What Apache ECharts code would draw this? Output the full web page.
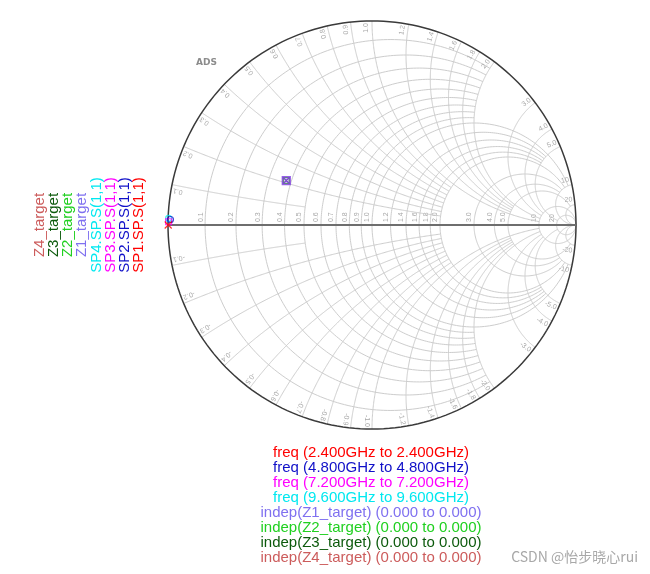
<!DOCTYPE html>
<html><head><meta charset="utf-8">
<script src="https://cdn.jsdelivr.net/npm/echarts@6/dist/echarts.min.js"></script>
<style>html,body{margin:0;padding:0;background:#fff}#c{width:650px;height:574px}</style>
</head><body><div id="c"></div>
<script>
// ---- grid tick values (normalized impedance) ----
const resistanceTicks = [0.1,0.2,0.3,0.4,0.5,0.6,0.7,0.8,0.9,1.0,1.2,1.4,1.6,1.8,2.0,3.0,4.0,5.0,10,20];
const reactanceTicks  = [0.1,0.2,0.3,0.4,0.5,0.6,0.7,0.8,0.9,1.0,1.2,1.4,1.6,1.8,2.0,3.0,4.0,5.0,10,20];
const tickLabels      = ['0.1','0.2','0.3','0.4','0.5','0.6','0.7','0.8','0.9','1.0','1.2','1.4','1.6','1.8','2.0','3.0','4.0','5.0','10','20'];

// ---- S-parameter traces (S11 reflection coefficient, re / im) ----
const sNames = ['SP1.SP.S(1,1)','SP2.SP.S(1,1)','SP3.SP.S(1,1)','SP4.SP.S(1,1)'];
const sFreq  = ['2.400GHz','4.800GHz','7.200GHz','9.600GHz'];
const s11Re  = [-0.999,-0.988,-0.997,-0.997];
const s11Im  = [0.000,0.027,0.016,0.032];

// ---- impedance targets (normalized to 50 ohm) ----
const zNames = ['Z1_target','Z2_target','Z3_target','Z4_target'];
const zRe    = [0.376,0.376,0.376,0.376];
const zIm    = [0.211,0.211,0.211,0.211];

const sColors = ['#ff0000','#1010c8','#ff00ff','#00e8f0'];
const zColors = ['#7f70f0','#20d020','#0c5a0c','#cc5c5c'];
const zMarkColors = ['#8040e0','#20d020','#0c5a0c','#cc5c5c'];

function gamma(r,x){const D=(r+1)*(r+1)+x*x;return [(r*r+x*x-1)/D,2*x/D];}
const FULL=1e6;
function limitOf(kind,v){
  if(kind===1 && v===0.1) return 0.5;
  if(v<1) return 2;
  if(v===1) return 10;
  if(v<2) return 5;
  if(v===2) return 10;
  if(v<5) return 10;
  if(v===5) return 20;
  return FULL;
}
const gridItems=[];
resistanceTicks.forEach((r,i)=>gridItems.push([0,r,limitOf(0,r),i]));
reactanceTicks.forEach((x,i)=>{gridItems.push([1,x,limitOf(1,x),i]);gridItems.push([1,-x,limitOf(1,x),i]);});
gridItems.push([2,0,FULL,-1]); // outer rim r=0
gridItems.push([3,0,FULL,-1]); // real axis

function linePoints(kind,v,lim){
  const pts=[];const N=220;
  if(kind===0||kind===2){
    const c=v/(1+v),R=1/(1+v);let p0=0;
    if(lim<FULL){const g=gamma(v,lim);p0=Math.atan2(g[1],g[0]-c);}
    for(let k=0;k<=N;k++){const p=p0+(2*Math.PI-2*p0)*k/N;pts.push([c+R*Math.cos(p),R*Math.sin(p)]);}
  } else if(kind===1){
    const cy=1/v,R=Math.abs(1/v);
    const a=gamma(0,v),b=lim<FULL?gamma(lim,v):[1,0];
    const s0=Math.atan2(a[1]-cy,a[0]-1),s1=Math.atan2(b[1]-cy,b[0]-1);
    let d=s1-s0;while(d>Math.PI)d-=2*Math.PI;while(d<-Math.PI)d+=2*Math.PI;
    for(let k=0;k<=N;k++){const p=s0+d*k/N;pts.push([1+R*Math.cos(p),cy+R*Math.sin(p)]);}
  } else {
    pts.push([-1,0]);pts.push([1,0]);
  }
  return pts;
}

function renderGrid(params,api){
  const kind=api.value(0),v=api.value(1),lim=api.value(2),idx=api.value(3);
  const pts=linePoints(kind,v,lim).map(p=>api.coord(p));
  let stroke='#cdcdcd',lw=1;
  if(kind===2){stroke='#3a3a3a';lw=1.5;}
  if(kind===3){stroke='#6e6e6e';lw=2;}
  const children=[{type:'polyline',shape:{points:pts},style:{stroke:stroke,fill:null,lineWidth:lw},silent:true}];
  const lab={fill:'#a8a8a8',fontSize:7,fontFamily:'Liberation Sans, Arial'};
  if(kind===0){
    const g=gamma(v,0);const p=api.coord([g[0],0]);
    children.push({type:'text',x:p[0]-1,y:p[1]-3,rotation:Math.PI/2,silent:true,
      style:Object.assign({text:tickLabels[idx],align:'left',verticalAlign:'bottom'},lab)});
  } else if(kind===1){
    const th=Math.atan2(2*v,v*v-1);const d=(v>0?1:-1)*0.01;
    const rr=0.99;const p=api.coord([rr*Math.cos(th+d),rr*Math.sin(th+d)]);
    children.push({type:'text',x:p[0],y:p[1],rotation:th,silent:true,
      style:Object.assign({text:(v<0?'-':'')+tickLabels[idx],align:'right',verticalAlign:v>0?'bottom':'top'},lab)});
  }
  return {type:'group',children:children};
}

const xMark='path://M0,0L10,10M10,0L0,10';
const sqX='path://M0,0H10V10H0ZM0,0L10,10M10,0L0,10';
const sSymbols=[xMark,'circle','rect','circle'];

const series=[{type:'custom',coordinateSystem:'cartesian2d',renderItem:renderGrid,data:gridItems,silent:true,z:1}];
for(let i=3;i>=0;i--){
  const g=gamma(zRe[i],zIm[i]);
  series.push({type:'scatter',name:zNames[i],data:[g],symbol:sqX,symbolSize:i===0?8:6,z:3+(3-i)*0.1,
    itemStyle:{color:i===0?'rgba(160,110,240,0.45)':'rgba(0,0,0,0)',borderColor:zMarkColors[i],borderWidth:i===0?1.3:0.8}});
}
for(let i=3;i>=0;i--){
  series.push({type:'scatter',name:sNames[i],data:[[s11Re[i],s11Im[i]]],symbol:sSymbols[i],symbolSize:i===0?7:6,z:4,
    itemStyle:{color:'rgba(0,0,0,0)',borderColor:sColors[i],borderWidth:1.2}});
}

// legends (rotated trace names on the left, ranges below)
const graphics=[];
const legendNames=[...zNames.slice().reverse(),...sNames.slice().reverse()];
const legendColors=[...zColors.slice().reverse(),...sColors.slice().reverse()];
const legendX=[40,54,68,82,97,111,125,139];
legendNames.forEach((t,i)=>graphics.push({type:'text',x:legendX[i],y:225,rotation:Math.PI/2,
  style:{text:t,fill:legendColors[i],font:'15px "Liberation Sans", Arial',align:'center',verticalAlign:'middle',textAlign:'center',textVerticalAlign:'middle'}}));
const bottomLines=[];
sFreq.forEach((f,i)=>bottomLines.push(['freq ('+f+' to '+f+')',sColors[i]]));
zNames.forEach((n,i)=>bottomLines.push(['indep('+n+') (0.000 to 0.000)',zColors[i]]));
bottomLines.forEach((b,i)=>graphics.push({type:'text',x:371,y:453+15*i,
  style:{text:b[0],fill:b[1],font:'15px "Liberation Sans", Arial',align:'center',verticalAlign:'middle',textAlign:'center',textVerticalAlign:'middle'}}));
graphics.push({type:'text',x:196,y:63,style:{text:'ADS',fill:'#8c8c8c',font:'bold 9px "DejaVu Sans", Arial',align:'left',verticalAlign:'middle'}});
graphics.push({type:'text',x:638,y:557,style:{text:'CSDN @怡步晓心rui',fill:'#a8a8a8',font:'14px "Noto Sans CJK SC", "Liberation Sans"',align:'right',verticalAlign:'middle',textAlign:'right',textVerticalAlign:'middle'}});

const chart=echarts.init(document.getElementById('c'));
chart.setOption({
  animation:false,backgroundColor:'#ffffff',
  grid:{left:168,top:21,width:408,height:408,show:false},
  xAxis:{type:'value',min:-1,max:1,show:false},
  yAxis:{type:'value',min:-1,max:1,show:false},
  series:series,
  graphic:graphics
});
</script></body></html>
